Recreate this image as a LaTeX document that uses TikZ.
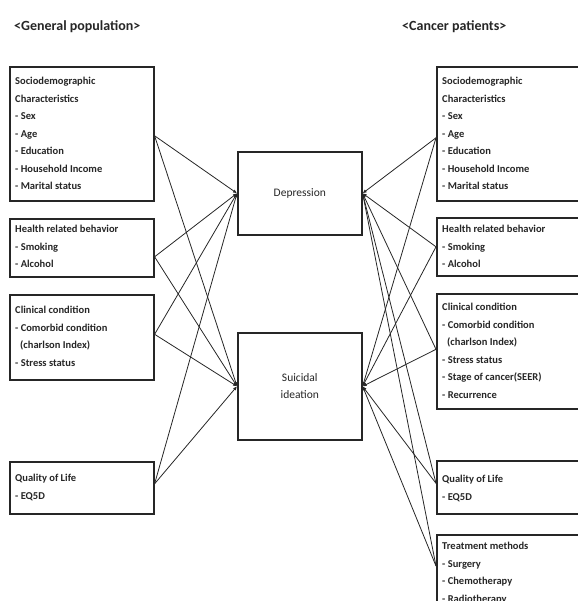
\documentclass[tikz,border=0pt]{standalone}
\usepackage{fontspec}
\setmainfont{Carlito}
\usetikzlibrary{arrows.meta}
\begin{document}
\begin{tikzpicture}[x=1pt,y=-1pt,
  box/.style={draw=black!85, line width=1.6pt, anchor=north west, inner sep=0pt, fill=white},
  cbox/.style={draw=black!85, line width=1.6pt, anchor=north west, inner sep=0pt, minimum width=124pt},
  txt/.style={anchor=north west, inner sep=0pt, align=left, font=\fontsize{10.5pt}{17.5pt}\selectfont\bfseries, text=black!85},
  ctxt/.style={inner sep=0pt, align=center, font=\fontsize{11.5pt}{17pt}\selectfont, text=black!85},
  head/.style={anchor=west, inner sep=0pt, font=\fontsize{14pt}{16pt}\selectfont\bfseries, text=black!85},
  link/.style={draw=black!85, line width=0.8pt, -{Latex[length=4pt,width=3.5pt]}}]
\useasboundingbox (0,0) rectangle (577,601);
\node[head] (hl) at (14,27) {<General population>};
\node[head] (hr) at (402,27) {<Cancer patients>};
% left boxes
\node[box, minimum width=144pt, minimum height=134pt] (L1) at (9,66) {};
\node[box, minimum width=144pt, minimum height=58pt] (L2) at (9,218) {};
\node[box, minimum width=144pt, minimum height=85pt] (L3) at (9,294) {};
\node[box, minimum width=144pt, minimum height=52pt] (L4) at (9,461) {};
% right boxes
\node[box, minimum width=150pt, minimum height=134pt] (R1) at (436,66) {};
\node[box, minimum width=150pt, minimum height=58pt] (R2) at (436,217) {};
\node[box, minimum width=150pt, minimum height=115pt] (R3) at (436,293) {};
\node[box, minimum width=150pt, minimum height=53pt] (R4) at (436,460) {};
\node[box, minimum width=150pt, minimum height=90pt] (R5) at (436,534) {};
% centre boxes
\node[cbox, minimum height=83pt] (D) at (237,151) {};
\node[cbox, minimum height=107pt] (S) at (237,332) {};
\node[ctxt] (dt) at (D.center) {Depression};
\node[ctxt] (st) at (S.center) {Suicidal\\ideation};
% texts left
\node[txt] (l1t) at (15,77) {Sociodemographic\\Characteristics\\- Sex\\- Age\\- Education\\- Household Income\\- Marital status};
\node[txt] (l2t) at (15,225) {Health related behavior\\- Smoking\\- Alcohol};
\node[txt] (l3t) at (15,306) {Clinical condition\\- Comorbid condition\\\hspace*{5pt}(charlson Index)\\- Stress status};
\node[txt] (l4t) at (15,474) {Quality of Life\\- EQ5D};
% texts right
\node[txt] (r1t) at (442,77) {Sociodemographic\\Characteristics\\- Sex\\- Age\\- Education\\- Household Income\\- Marital status};
\node[txt] (r2t) at (442,225) {Health related behavior\\- Smoking\\- Alcohol};
\node[txt] (r3t) at (442,303) {Clinical condition\\- Comorbid condition\\\hspace*{5pt}(charlson Index)\\- Stress status\\- Stage of cancer(SEER)\\- Recurrence};
\node[txt] (r4t) at (442,475) {Quality of Life\\- EQ5D};
\node[txt] (r5t) at (442,542) {Treatment methods\\- Surgery\\- Chemotherapy\\- Radiotherapy};
% links left
\foreach \n/\dy in {L1/-2, L2/-9, L3/3, L4/4} {
  \draw[link] ([yshift=\dy pt]\n.east) -- (D.west);
  \draw[link] ([yshift=\dy pt]\n.east) -- (S.west);
}
% links right
\foreach \n/\dy in {R1/-4, R2/0, R3/2, R4/4} {
  \draw[link] ([yshift=\dy pt]\n.west) -- (D.east);
  \draw[link] ([yshift=\dy pt]\n.west) -- (S.east);
}
\coordinate (r5a) at ([yshift=-32pt]R5.north west);
\draw[link] (r5a) -- (D.east);
\draw[link] (r5a) -- (S.east);
\end{tikzpicture}
\end{document}
